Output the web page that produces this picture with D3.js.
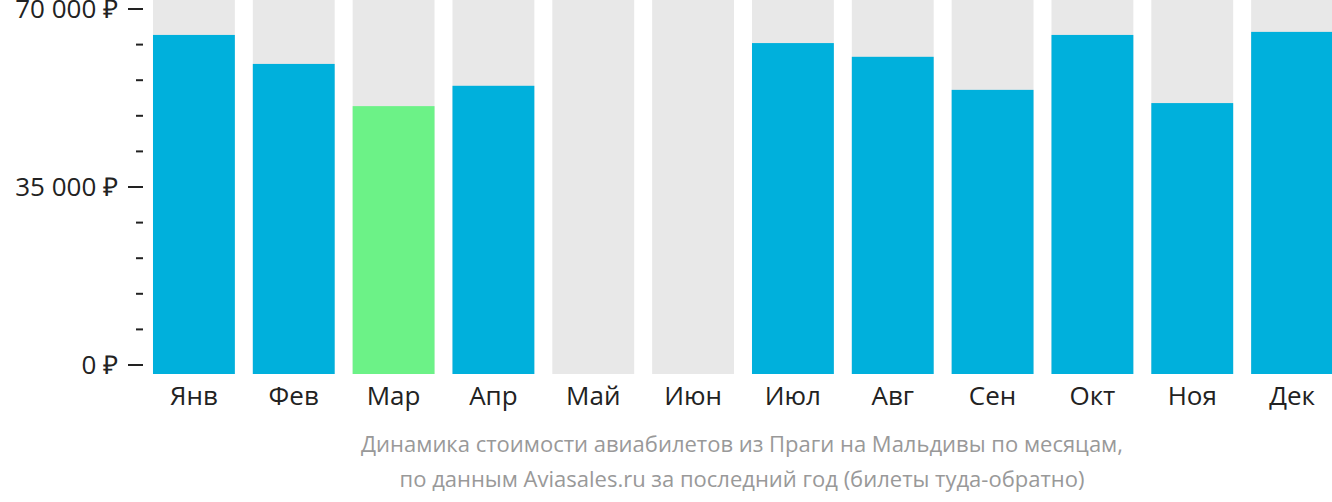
<!DOCTYPE html>
<html><head><meta charset="utf-8">
<script src="https://cdn.jsdelivr.net/npm/d3@7"></script>
<style>body{margin:0;background:#fff;} svg{display:block;}</style>
</head><body>
<svg id="c" width="1332" height="502"></svg>
<script>
const months = ["Янв","Фев","Мар","Апр","Май","Июн","Июл","Авг","Сен","Окт","Ноя","Дек"];
const prices = [64900, 59200, 50900, 54900, null, null, 63300, 60600, 54100, 64900, 51500, 65500];
const cheapestIndex = 2;
const yTicks = [0, 35000, 70000];
const yTickLabels = ["0 ₽", "35 000 ₽", "70 000 ₽"];
const minorTicks = [7000,14000,21000,28000,42000,49000,56000,63000];
const captionLines = ["Динамика стоимости авиабилетов из Праги на Мальдивы по месяцам,",
                      "по данным Aviasales.ru за последний год (билеты туда-обратно)"];

const svg = d3.select("#c");
const font = "'Open Sans', sans-serif";
const plotTop = 0, plotBottom = 374;
const x = d3.scaleBand().domain(months).range([143, 1343]).paddingInner(0.18).paddingOuter(0.1);
const y = d3.scaleLinear().domain([0, 70000]).range([365, 9]);

// background bars
svg.append("g").selectAll("rect").data(months).join("rect")
  .attr("x", d => x(d)).attr("width", x.bandwidth())
  .attr("y", plotTop).attr("height", plotBottom - plotTop)
  .attr("fill", "#e8e8e8");

// value bars
svg.append("g").selectAll("rect").data(months.map((m,i)=>({m, v: prices[i], i})).filter(d => d.v != null))
  .join("rect")
  .attr("x", d => x(d.m)).attr("width", x.bandwidth())
  .attr("y", d => y(d.v)).attr("height", d => plotBottom - y(d.v))
  .attr("fill", d => d.i === cheapestIndex ? "#6cf287" : "#00b0dc");

// y axis
const ax = svg.append("g");
ax.selectAll("line.major").data(yTicks).join("line")
  .attr("x1", 128).attr("x2", 143).attr("y1", d => y(d)).attr("y2", d => y(d))
  .attr("stroke", "#222").attr("stroke-width", 2);
ax.selectAll("line.minor").data(minorTicks).join("line")
  .attr("x1", 136).attr("x2", 143).attr("y1", d => y(d)).attr("y2", d => y(d))
  .attr("stroke", "#222").attr("stroke-width", 2);
ax.selectAll("text").data(yTicks).join("text")
  .attr("x", 118).attr("y", d => y(d)).attr("dy", "0.36em")
  .attr("text-anchor", "end").attr("font-family", font).attr("font-size", 26)
  .attr("fill", "#222").text((d,i) => yTickLabels[i]);

// x labels
svg.append("g").selectAll("text").data(months).join("text")
  .attr("x", d => x(d) + x.bandwidth()/2).attr("y", 405)
  .attr("text-anchor", "middle").attr("font-family", font).attr("font-size", 26)
  .attr("fill", "#222").text(d => d);

// caption
svg.append("g").selectAll("text").data(captionLines).join("text")
  .attr("x", 742).attr("y", (d,i) => 452 + i*35)
  .attr("text-anchor", "middle").attr("font-family", font).attr("font-size", 22)
  .attr("fill", "#999").text(d => d);
</script>
</body></html>
